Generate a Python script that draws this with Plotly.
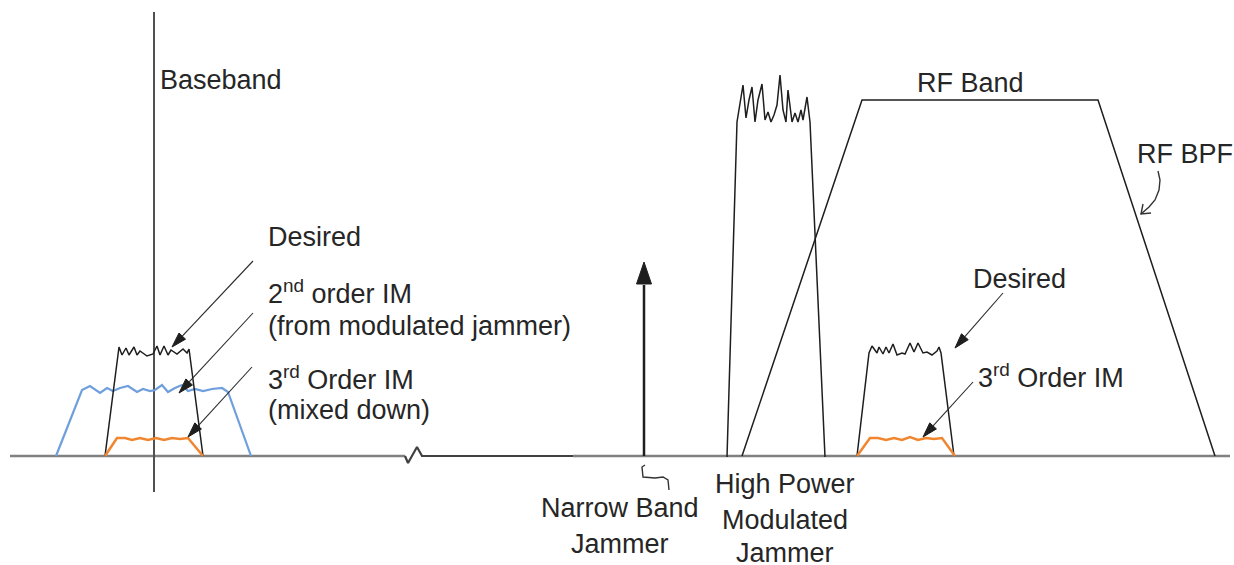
import numpy as np
import plotly.graph_objects as go

# ---------------- data (diagram vertices, in picture units) ----------------
base_left_x = [10, 405]
base_left_y = [456, 456]
base_break_x = [405, 408, 417, 422, 573]
base_break_y = [456, 463, 447, 456, 456]
base_right_x = [573, 1230]
base_right_y = [456, 456]

bb_axis_x = [154, 154]
bb_axis_y = [12, 492]

desired_l_x = [105, 119, 122, 126, 129, 134, 137, 140, 147, 153, 157, 160, 164, 168, 171, 177, 183, 187, 189, 203]
desired_l_y = [456, 347, 355, 348, 355, 347, 355, 351, 356, 354, 346, 355, 346, 355, 350, 354, 349, 353, 349, 456]

im2_x = [56, 82, 90, 100, 107, 113, 120, 128, 137, 143, 150, 155, 162, 168, 175, 182, 188, 195, 203, 212, 222, 228, 251]
im2_y = [456, 390, 386, 393, 388, 391, 388, 386, 392, 389, 391, 390, 385, 392, 388, 385, 391, 389, 391, 389, 388, 392, 456]

im3_l_x = [105, 117, 125, 132, 140, 148, 156, 164, 172, 180, 188, 203]
im3_l_y = [456, 438, 438, 440, 438, 440, 438, 440, 438, 439, 438, 456]

desired_r_x = [857, 869, 872, 877, 879, 883, 886, 889, 893, 897, 902, 905, 910, 914, 918, 923, 927, 932, 937, 939, 941, 954]
desired_r_y = [456, 353, 346, 353, 347, 354, 347, 353, 344, 355, 353, 354, 343, 352, 343, 353, 352, 355, 351, 347, 353, 456]

im3_r_x = [857, 870, 878, 886, 894, 902, 910, 918, 926, 934, 942, 955]
im3_r_y = [456, 438, 438, 440, 438, 440, 437, 440, 438, 439, 438, 456]

jammer_x = [727, 737, 743, 746, 749, 752, 755, 758, 762, 765, 768, 771, 774, 777, 780, 783, 786, 788, 792, 795, 798, 801, 803, 807, 810, 825]
jammer_y = [457, 122, 85, 118, 100, 87, 122, 100, 84, 120, 112, 122, 115, 105, 75, 110, 122, 90, 122, 113, 122, 110, 120, 97, 122, 457]

bpf_x = [742, 862, 1098, 1215]
bpf_y = [456, 100, 100, 456]

nb_arrow_x = [644, 644]
nb_arrow_y = [456, 262]

nb_squiggle_x = [645, 642, 643, 655, 663, 668, 669]
nb_squiggle_y = [465, 467, 477, 478, 477, 480, 490]

bpf_curve_x = [1158, 1160, 1159, 1155, 1149, 1141]
bpf_curve_y = [171, 180, 190, 200, 207, 214]
bpf_head_x = [1143, 1141, 1151]
bpf_head_y = [204, 214, 213]

# leader arrows: start -> tip
lead_x0 = [253, 253, 252, 1003, 973]
lead_y0 = [261, 313, 367, 293, 382]
lead_x1 = [172, 179, 188, 955, 923]
lead_y1 = [347, 393, 437, 348, 437]

# labels: text, x, y, anchor
label_text = ["Baseband", "Desired", "2<sup>nd</sup> order IM", "(from modulated jammer)",
              "3<sup>rd</sup> Order IM", "(mixed down)", "RF Band", "RF BPF", "Desired",
              "3<sup>rd</sup> Order IM", "Narrow Band", "Jammer", "High Power", "Modulated", "Jammer"]
label_x = [158, 266, 266, 266, 266, 266, 970, 1135, 971, 976, 620, 620, 785, 785, 785]
label_y = [80, 237, 292, 326, 378, 410, 83, 154, 279, 376, 508, 544, 484, 520, 553]
label_anchor = ["left", "left", "left", "left", "left", "left", "center", "left", "left", "left",
                "center", "center", "center", "center", "center"]

# ---------------- styles ----------------
BLACK = "#1e1e1e"
GRAY = "#808080"
BLUE = "#6f9fdc"
ORANGE = "#f08630"
FONT = "Liberation Sans, Arial, sans-serif"

fig = go.Figure()


def line(x, y, color, width):
    fig.add_trace(go.Scatter(x=x, y=y, mode="lines", line=dict(color=color, width=width),
                             hoverinfo="skip", showlegend=False))


def head(x0, y0, x1, y1, L, W, color):
    d = np.array([x1 - x0, y1 - y0], dtype=float)
    d /= np.linalg.norm(d)
    n = np.array([-d[1], d[0]])
    tip = np.array([x1, y1], dtype=float)
    b = tip - d * L
    p1 = b + n * W
    p2 = b - n * W
    fig.add_trace(go.Scatter(x=[tip[0], p1[0], p2[0], tip[0]], y=[tip[1], p1[1], p2[1], tip[1]],
                             mode="lines", fill="toself", fillcolor=color,
                             line=dict(color=color, width=1), hoverinfo="skip", showlegend=False))
    return b


line(base_left_x, base_left_y, GRAY, 2.5)
line(base_right_x, base_right_y, GRAY, 2.5)
line(base_break_x, base_break_y, "#404040", 2.2)
line(bb_axis_x, bb_axis_y, "#505050", 2)

line(im2_x, im2_y, BLUE, 2.2)
line(desired_l_x, desired_l_y, BLACK, 1.5)
line(im3_l_x, im3_l_y, ORANGE, 2.5)

line(jammer_x, jammer_y, BLACK, 1.5)
line(bpf_x, bpf_y, BLACK, 1.5)
line(desired_r_x, desired_r_y, BLACK, 1.5)
line(im3_r_x, im3_r_y, ORANGE, 2.5)

# narrow band jammer arrow
b = head(nb_arrow_x[0], nb_arrow_y[0], nb_arrow_x[1], nb_arrow_y[1], 22, 7.5, BLACK)
line([nb_arrow_x[0], b[0]], [nb_arrow_y[0], b[1] + 1], BLACK, 2.5)
line(nb_squiggle_x, nb_squiggle_y, "#333333", 1.4)

# RF BPF curved pointer
line(bpf_curve_x, bpf_curve_y, "#333333", 1.4)
line(bpf_head_x, bpf_head_y, "#333333", 1.4)

# leader arrows
for x0, y0, x1, y1 in zip(lead_x0, lead_y0, lead_x1, lead_y1):
    b = head(x0, y0, x1, y1, 15, 4.5, BLACK)
    line([x0, b[0]], [y0, b[1]], "#2a2a2a", 1.1)

for t, x, y, a in zip(label_text, label_x, label_y, label_anchor):
    fig.add_annotation(x=x, y=y, text=t, xanchor=a, yanchor="middle", showarrow=False,
                       font=dict(family=FONT, size=27, color="#262626"))

fig.update_layout(
    width=1234, height=565, autosize=False,
    margin=dict(l=0, r=0, t=0, b=0),
    paper_bgcolor="white", plot_bgcolor="white",
    xaxis=dict(range=[0, 1234], visible=False, fixedrange=True),
    yaxis=dict(range=[565, 0], visible=False, fixedrange=True),
    showlegend=False,
)

fig.write_html("out.html", config={"displayModeBar": False},
               post_script="document.body.style.margin='0';document.body.style.overflow='hidden';")
